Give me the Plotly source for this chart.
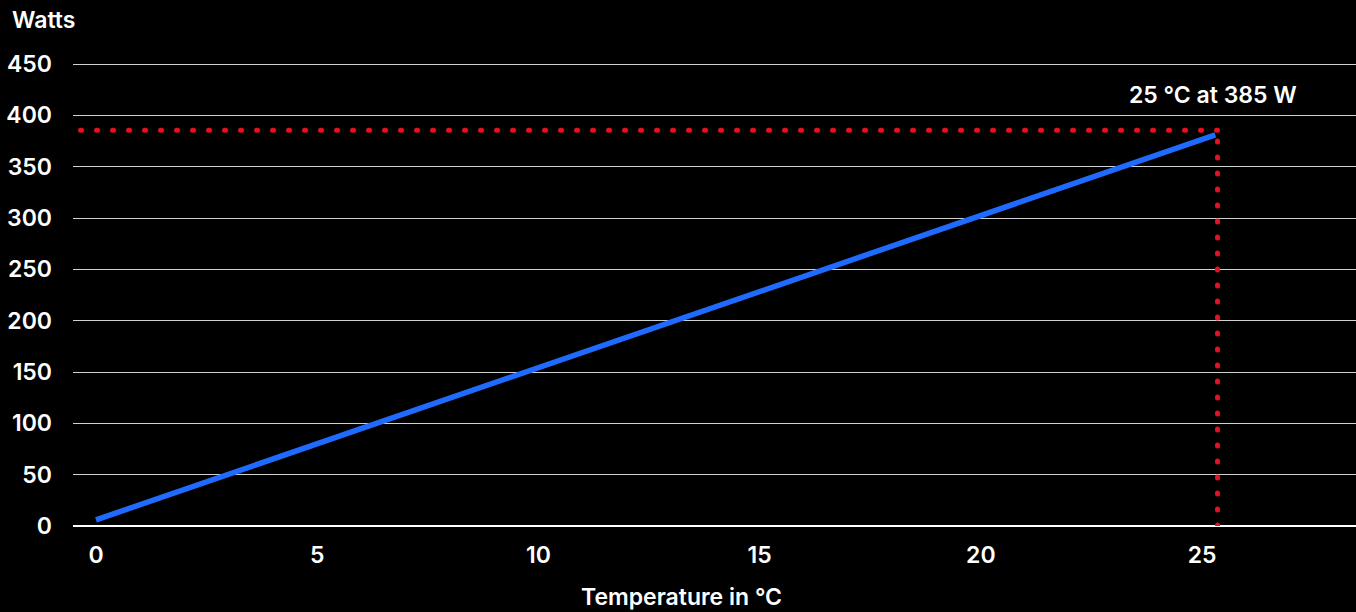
import plotly.graph_objects as go

# Data
temperature_c = [0, 5, 10, 15, 20, 25.3]
watts = [6, 80, 154, 228, 302, 381]

marker_temp = 25.35
marker_watts = 385.5
x_ticks = [0, 5, 10, 15, 20, 25]
y_ticks = [0, 50, 100, 150, 200, 250, 300, 350, 400, 450]
x_range = [-0.52, 28.48]
y_range = [0, 452]

FONT = "Inter"
FS = 23
W = 600
fig = go.Figure()

# red dotted reference lines (horizontal drawn from the corner leftwards,
# vertical drawn from the axis upwards)
for xs, ys in (([marker_temp, x_range[0]], [marker_watts, marker_watts]),
               ([marker_temp, marker_temp], [0, marker_watts])):
    fig.add_trace(go.Scatter(
        x=xs, y=ys, mode="lines",
        line=dict(color="#e8101e", width=5, dash="1px,15px"),
        hoverinfo="skip", showlegend=False, cliponaxis=False))

fig.add_trace(go.Scatter(
    x=temperature_c, y=watts, mode="lines",
    line=dict(color="#1f6bff", width=5.5),
    showlegend=False))

H_PLOT = 464
fig.update_layout(
    width=1356, height=612,
    margin=dict(l=73, r=0, t=62, b=86),
    paper_bgcolor="black", plot_bgcolor="black",
    font=dict(family=FONT, color="white", size=FS),
    xaxis=dict(range=x_range, tickvals=x_ticks, showgrid=False,
               zeroline=False, showline=False, ticklabelstandoff=13,
               tickfont=dict(family=FONT, size=FS, weight=W)),
    yaxis=dict(range=y_range, tickvals=y_ticks, showgrid=True,
               gridcolor="#d0d0d0", gridwidth=1, zeroline=True,
               zerolinecolor="white", zerolinewidth=1.5,
               ticklabelstandoff=20,
               tickfont=dict(family=FONT, size=FS, weight=W)),
    annotations=[
        dict(text="Watts", xref="paper", yref="paper",
             x=(10 - 73) / 1283, y=1 + 42 / H_PLOT, xanchor="left", yanchor="middle",
             showarrow=False, font=dict(family=FONT, size=FS, weight=W)),
        dict(text="Temperature in °C", xref="paper", yref="paper",
             x=(681 - 73) / 1283, y=(526 - 597) / H_PLOT, xanchor="center", yanchor="middle",
             showarrow=False, font=dict(family=FONT, size=FS, weight=W)),
        dict(text="25 °C at 385 W", xref="x", yref="y",
             x=marker_temp - 0.1, y=420, xanchor="center", yanchor="middle",
             showarrow=False, font=dict(family=FONT, size=FS, weight=W)),
    ],
)

post = """
document.body.style.margin='0';
document.body.style.background='black';
function rc(){document.querySelectorAll('.scatterlayer .js-line').forEach(function(p){
  if((p.style.strokeDasharray||'').indexOf('15')>=0){p.style.strokeLinecap='round';}
});}
rc();
var gd=document.getElementsByClassName('plotly-graph-div')[0];
if(gd&&gd.on){gd.on('plotly_afterplot',rc);}
"""

fig.write_html("out.html", config={"displayModeBar": False}, post_script=post)
